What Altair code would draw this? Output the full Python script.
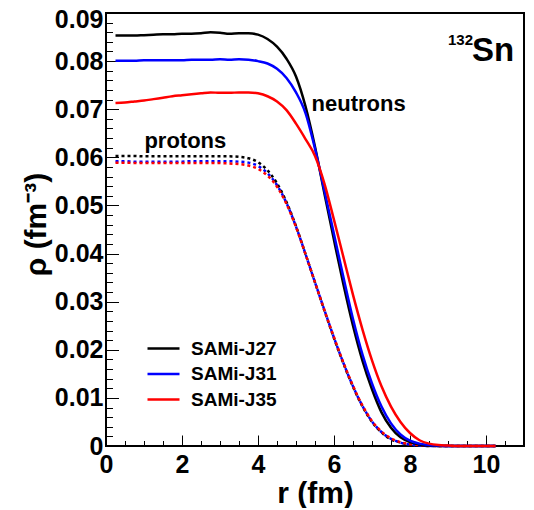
import altair as alt
import pandas as pd

# ---------------- data ----------------
r = [0.25, 0.5, 0.75, 1.0, 1.25, 1.5, 1.75, 2.0, 2.25, 2.5, 2.75, 3.0, 3.25,
     3.5, 3.75, 4.0, 4.25, 4.5, 4.75, 5.0, 5.25, 5.5, 5.75, 6.0, 6.25, 6.5,
     6.75, 7.0, 7.25, 7.5, 7.75, 8.0, 8.25, 8.5, 8.75, 9.0, 9.25, 9.5, 9.75,
     10.0, 10.25]

models = ["SAMi-J27", "SAMi-J31", "SAMi-J35"]
colors = ["#000000", "#0000ff", "#ff0000"]

neutron_J27 = [0.0853, 0.0853, 0.0853, 0.0854, 0.0855, 0.0856, 0.0856, 0.0857,
               0.0857, 0.0858, 0.0860, 0.0859, 0.0857, 0.0858, 0.0858, 0.0855,
               0.0846, 0.0830, 0.0805, 0.0768, 0.0706, 0.0622, 0.0524, 0.0428,
               0.0335, 0.0250, 0.0177, 0.0118, 0.0070, 0.0038, 0.0018, 0.0008,
               0.0003, 0.0001, 0.0, 0.0, 0.0, 0.0, 0.0, 0.0, 0.0]
neutron_J31 = [0.0801, 0.0801, 0.0801, 0.0802, 0.0802, 0.0802, 0.0802, 0.0802,
               0.0803, 0.0803, 0.0803, 0.0804, 0.0803, 0.0804, 0.0803, 0.0800,
               0.0795, 0.0784, 0.0765, 0.0735, 0.0692, 0.0618, 0.0530, 0.0440,
               0.0350, 0.0264, 0.0190, 0.0130, 0.0082, 0.0047, 0.0024, 0.0011,
               0.0005, 0.0002, 0.0001, 0.0, 0.0, 0.0, 0.0, 0.0, 0.0]
neutron_J35 = [0.0713, 0.0714, 0.0716, 0.0718, 0.0721, 0.0724, 0.0727, 0.0729,
               0.0731, 0.0733, 0.0735, 0.0734, 0.0734, 0.0735, 0.0735, 0.0733,
               0.0727, 0.0716, 0.0698, 0.0670, 0.0638, 0.0603, 0.0545, 0.0470,
               0.0392, 0.0314, 0.0242, 0.0178, 0.0124, 0.0082, 0.0050, 0.0027,
               0.0012, 0.0005, 0.0002, 0.0001, 0.0, 0.0, 0.0, 0.0, 0.0]

proton_J27 = [0.0603, 0.0603, 0.0603, 0.0602, 0.0602, 0.0602, 0.0602, 0.0602,
              0.0602, 0.0602, 0.0602, 0.0602, 0.0602, 0.0601, 0.0598, 0.0590,
              0.0573, 0.0546, 0.0507, 0.0457, 0.0399, 0.0340, 0.0281, 0.0224,
              0.0171, 0.0123, 0.0082, 0.0050, 0.0028, 0.0014, 0.0007, 0.0003,
              0.0001, 0.0, 0.0, 0.0, 0.0, 0.0, 0.0, 0.0, 0.0]
proton_J31 = [0.0592, 0.0592, 0.0591, 0.0591, 0.0591, 0.0591, 0.0591, 0.0591,
              0.0592, 0.0592, 0.0592, 0.0592, 0.0592, 0.0591, 0.0589, 0.0582,
              0.0567, 0.0542, 0.0505, 0.0456, 0.0399, 0.0340, 0.0282, 0.0225,
              0.0172, 0.0124, 0.0083, 0.0051, 0.0029, 0.0015, 0.0007, 0.0003,
              0.0001, 0.0, 0.0, 0.0, 0.0, 0.0, 0.0, 0.0, 0.0]
proton_J35 = [0.0589, 0.0589, 0.0588, 0.0588, 0.0588, 0.0588, 0.0588, 0.0588,
              0.0588, 0.0588, 0.0588, 0.0588, 0.0587, 0.0586, 0.0583, 0.0576,
              0.0562, 0.0539, 0.0503, 0.0455, 0.0399, 0.0340, 0.0282, 0.0226,
              0.0173, 0.0125, 0.0084, 0.0052, 0.0030, 0.0016, 0.0008, 0.0004,
              0.0002, 0.0001, 0.0, 0.0, 0.0, 0.0, 0.0, 0.0, 0.0]

x_major = [0, 2, 4, 6, 8, 10]
x_minor = [0, 0.5, 1, 1.5, 2, 2.5, 3, 3.5, 4, 4.5, 5, 5.5, 6, 6.5, 7, 7.5, 8,
           8.5, 9, 9.5, 10, 10.5, 11]
y_major = [0, 0.01, 0.02, 0.03, 0.04, 0.05, 0.06, 0.07, 0.08, 0.09]
y_minor = [0, 0.002, 0.004, 0.006, 0.008, 0.01, 0.012, 0.014, 0.016, 0.018,
           0.02, 0.022, 0.024, 0.026, 0.028, 0.03, 0.032, 0.034, 0.036, 0.038,
           0.04, 0.042, 0.044, 0.046, 0.048, 0.05, 0.052, 0.054, 0.056, 0.058,
           0.06, 0.062, 0.064, 0.066, 0.068, 0.07, 0.072, 0.074, 0.076, 0.078,
           0.08, 0.082, 0.084, 0.086, 0.088, 0.09]

ann_text = ["neutrons", "protons", "132", "Sn"]
ann_r = [5.41, 1.01, 9.0, 9.63]
ann_rho = [0.0697, 0.0619, 0.0834, 0.0800]
ann_size = [22, 22, 15, 33]

# ---------------- tables ----------------
neut_vals = {"SAMi-J27": neutron_J27, "SAMi-J31": neutron_J31, "SAMi-J35": neutron_J35}
prot_vals = {"SAMi-J27": proton_J27, "SAMi-J31": proton_J31, "SAMi-J35": proton_J35}

rows_n, rows_p = [], []
for i, m in enumerate(models):
    for ri, v in zip(r, neut_vals[m]):
        rows_n.append({"r": ri, "rho": v, "model": m, "order": i})
    for ri, v in zip(r, prot_vals[m]):
        rows_p.append({"r": ri, "rho": v, "model": m, "order": i})
neut = pd.DataFrame(rows_n)
prot = pd.DataFrame(rows_p)
ann = pd.DataFrame({"text": ann_text, "r": ann_r, "rho": ann_rho, "fs": ann_size})

FONT = "Liberation Sans"
xs = alt.Scale(domain=[0, 11], nice=False, zero=False)
ys = alt.Scale(domain=[0, 0.09], nice=False)
cs = alt.Scale(domain=models, range=colors)

label_x = alt.Axis(values=x_major, format="d", ticks=False, tickSize=0,
                   domain=False, grid=False, labelFont=FONT, labelFontSize=25,
                   labelFontWeight="bold", labelColor="black", labelPadding=6,
                   labelFlush=False, labelOverlap=False, orient="bottom",
                   title="r (fm)", titleFont=FONT, titleFontSize=30,
                   titleFontWeight="bold", titleColor="black", titleX=209,
                   titleY=56, titleBaseline="alphabetic", titleAlign="center")
label_y = alt.Axis(values=y_major, format=".2~f", ticks=False, tickSize=0,
                   domain=False, grid=False, labelFont=FONT, labelFontSize=25,
                   labelFontWeight="bold", labelColor="black", labelPadding=3,
                   labelOffset={"condition": {"test": "datum.value > 0.085", "value": 6}, "value": 0},
                   labelFlush=False, labelOverlap=False, orient="left",
                   title="ρ (fm⁻³)", titleFont=FONT, titleFontSize=30,
                   titleFontWeight="bold", titleColor="black", titleX=-61,
                   titleY=211, titleAngle=270, titleBaseline="alphabetic",
                   titleAlign="center")

def tick_axis(vals, size, orient):
    return alt.Axis(values=vals, labels=False, domain=False, grid=False,
                    ticks=True, tickSize=size, offset=-size, tickColor="black",
                    tickWidth=1, title="", orient=orient)

# legend symbol: a horizontal stroke twice as long as its nominal size,
# so the rows can sit as close together as in the reference
legend = alt.Legend(orient="none", legendX=48, legendY=326, title=None,
                    symbolType="M-2,0H2", symbolSize=256, symbolStrokeWidth=2.5,
                    symbolDash=[1, 0], labelFont=FONT, labelFontSize=19,
                    labelFontWeight="bold", labelColor="black", labelOffset=18,
                    rowPadding=5.5, direction="vertical", padding=0)

neutron_lines = alt.Chart(neut).mark_line(strokeWidth=2.5, interpolate="monotone").encode(
    x=alt.X("r:Q", scale=xs, axis=label_x),
    y=alt.Y("rho:Q", scale=ys, axis=label_y),
    color=alt.Color("model:N", scale=cs, legend=legend),
    order=alt.Order("order:Q"),
)

proton_lines = alt.Chart(prot).mark_line(strokeWidth=2.5, strokeDash=[3, 3],
                                          interpolate="monotone").encode(
    x=alt.X("r:Q", scale=xs, axis=None),
    y=alt.Y("rho:Q", scale=ys, axis=None),
    color=alt.Color("model:N", scale=cs, legend=None),
)

major_ticks = alt.Chart(neut).mark_point(opacity=0).encode(
    x=alt.X("r:Q", scale=xs, axis=tick_axis(x_major, 11, "bottom")),
    y=alt.Y("rho:Q", scale=ys, axis=tick_axis(y_major, 12.5, "left")),
)
minor_ticks = alt.Chart(neut).mark_point(opacity=0).encode(
    x=alt.X("r:Q", scale=xs, axis=tick_axis(x_minor, 5.5, "bottom")),
    y=alt.Y("rho:Q", scale=ys, axis=tick_axis(y_minor, 6.5, "left")),
)

labels = alt.Chart(ann).mark_text(align="left", baseline="alphabetic",
                                  font=FONT, fontWeight="bold", color="black").encode(
    x=alt.X("r:Q", scale=xs, axis=None),
    y=alt.Y("rho:Q", scale=ys, axis=None),
    text="text:N",
    size=alt.Size("fs:Q", scale=None),
)

chart = alt.layer(
    major_ticks, minor_ticks, proton_lines, neutron_lines, labels
).resolve_axis(
    x="independent", y="independent"
).resolve_legend(
    color="independent"
).properties(
    width=418, height=433,
    autosize=alt.AutoSizeParams(type="none"),
    padding={"left": 98, "top": 5, "right": 2, "bottom": 62},
    background="white",
).configure_view(
    stroke="black", strokeWidth=2
)

chart.save("out.html", embed_options={"renderer": "svg", "actions": False})
